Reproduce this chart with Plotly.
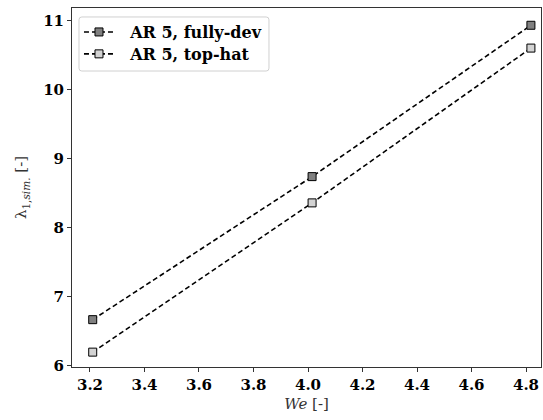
import plotly.graph_objects as go

we = [3.21, 4.015, 4.818]
lam_fully = [6.67, 8.74, 10.93]
lam_tophat = [6.2, 8.36, 10.6]
names = ["AR 5, fully-dev", "AR 5, top-hat"]
fills = ["#808080", "#d3d3d3"]
legend_ids = ["legend", "legend2"]

fig = go.Figure()
for y, n, c, lg in zip([lam_fully, lam_tophat], names, fills, legend_ids):
    fig.add_trace(go.Scatter(
        x=we, y=y, name="\u00a0\u00a0" + n, mode="lines+markers", legend=lg,
        line=dict(color="black", width=1.6, dash="5px,3px"),
        marker=dict(symbol="square", size=8, color=c, line=dict(color="black", width=1)),
    ))

axis_common = dict(
    showline=True, linecolor="#333", linewidth=1, mirror=True, automargin=False,
    ticks="outside", ticklen=4, tickcolor="#333", showgrid=False, zeroline=False,
    tickfont=dict(family="DejaVu Serif", size=15, color="black", weight="bold"),
)
leg_common = dict(xanchor="left", yanchor="middle", bgcolor="rgba(0,0,0,0)", borderwidth=0,
                  font=dict(family="DejaVu Serif", size=16, color="black", weight="bold"),
                  itemwidth=30)

# rounded legend frame (paper coords)
x0, x1, y0, y1, r = 0.0149, 0.420, 0.8245, 0.975, 0.006
ry = r * 469 / 359
frame = (f"M {x0+r},{y1} L {x1-r},{y1} Q {x1},{y1} {x1},{y1-ry} L {x1},{y0+ry} Q {x1},{y0} {x1-r},{y0} "
         f"L {x0+r},{y0} Q {x0},{y0} {x0},{y0+ry} L {x0},{y1-ry} Q {x0},{y1} {x0+r},{y1} Z")

fig.update_layout(
    width=543, height=420,
    margin=dict(l=72, r=2, t=8, b=53),
    plot_bgcolor="white", paper_bgcolor="white",
    xaxis=dict(range=[3.134, 4.855], tickvals=[3.2, 3.4, 3.6, 3.8, 4.0, 4.2, 4.4, 4.6, 4.8],
               ticktext=["3.2", "3.4", "3.6", "3.8", "4.0", "4.2", "4.4", "4.6", "4.8"],
               title=dict(text="<i>We</i> [-]", font=dict(family="DejaVu Serif", size=15, color="#333"), standoff=5),
               **axis_common),
    yaxis=dict(range=[5.985, 11.18], tickvals=[6, 7, 8, 9, 10, 11],
               title=dict(text="λ<sub>1,<i>sim.</i></sub> [-]", font=dict(family="DejaVu Serif", size=15, color="#333"), standoff=12),
               **axis_common),
    legend=dict(x=0.0149, y=0.933, **leg_common),
    legend2=dict(x=0.0149, y=0.872, **leg_common),
    shapes=[dict(type="path", xref="paper", yref="paper", path=frame,
                 fillcolor="rgba(255,255,255,0.8)", line=dict(color="#d0d0d0", width=1), layer="above")],
    showlegend=True,
)
fig.write_html("out.html", config={"displayModeBar": False},
               post_script="document.body.style.margin='0';document.body.style.overflow='hidden';")
